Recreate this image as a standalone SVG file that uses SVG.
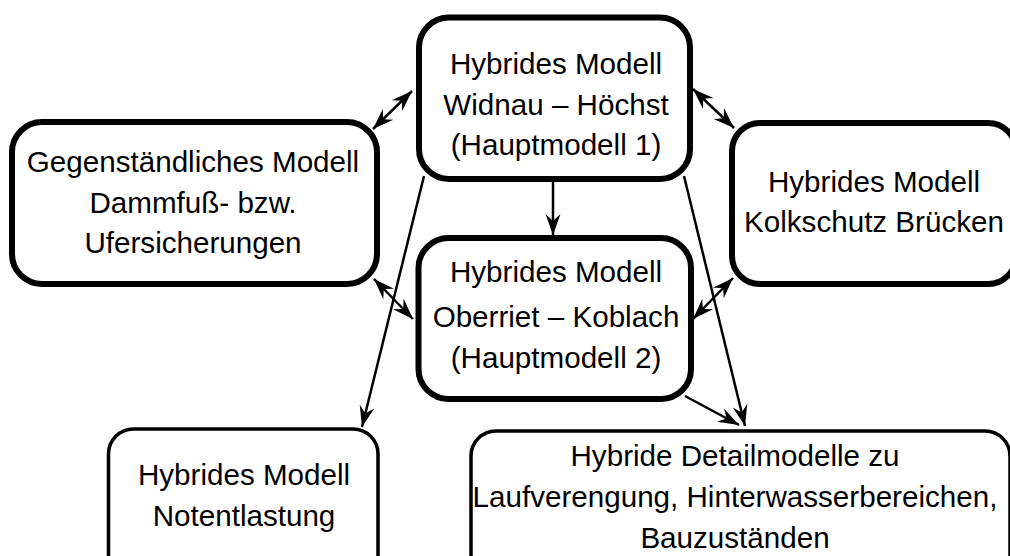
<svg xmlns="http://www.w3.org/2000/svg" width="1010" height="556" viewBox="0 0 1010 556">
<style>
.box{fill:#fff;stroke:#000;stroke-width:6}
.thin{fill:#fff;stroke:#000;stroke-width:3.5}
.t{font-family:"Liberation Sans",Arial,sans-serif;font-size:29.6px;fill:#000;text-anchor:middle}
.c{stroke:#000;stroke-width:2.5;fill:none}
</style>
<defs>
<marker id="ah" markerUnits="userSpaceOnUse" viewBox="-22 -9 24 18" refX="0" refY="0" markerWidth="24" markerHeight="18" orient="auto-start-reverse">
<path d="M0,0 L-21,-7.5 L-14,0 L-21,7.5 Z" fill="#000"/>
</marker>
</defs>
<rect width="1010" height="556" fill="#fff"/>
<g id="connectors">
<line class="c" x1="373" y1="129" x2="412" y2="91" marker-start="url(#ah)" marker-end="url(#ah)"/>
<line class="c" x1="693" y1="89" x2="734" y2="128" marker-start="url(#ah)" marker-end="url(#ah)"/>
<line class="c" x1="374" y1="279" x2="413" y2="319" marker-start="url(#ah)" marker-end="url(#ah)"/>
<line class="c" x1="733" y1="278" x2="693" y2="319" marker-start="url(#ah)" marker-end="url(#ah)"/>
<line class="c" x1="553" y1="182" x2="553" y2="235" marker-end="url(#ah)"/>
<line class="c" x1="424" y1="176" x2="362" y2="427" marker-end="url(#ah)"/>
<line class="c" x1="684" y1="176" x2="745" y2="426" marker-end="url(#ah)"/>
<line class="c" x1="685" y1="396" x2="739" y2="425" marker-end="url(#ah)"/>
</g>
<g id="n1">
<rect class="box" x="419" y="17.5" width="271" height="161.5" rx="30"/>
<text class="t" x="556" y="74">Hybrides Modell</text>
<text class="t" x="556" y="115">Widnau – Höchst</text>
<text class="t" x="556" y="155">(Hauptmodell 1)</text>
</g>
<g id="n2">
<rect class="box" x="12" y="122" width="365" height="162" rx="30"/>
<text class="t" x="193" y="172">Gegenständliches Modell</text>
<text class="t" x="193" y="213">Dammfuß- bzw.</text>
<text class="t" x="193" y="253">Ufersicherungen</text>
</g>
<g id="n3">
<rect class="box" x="732" y="123" width="284" height="161" rx="28"/>
<text class="t" x="874" y="192">Hybrides Modell</text>
<text class="t" x="874" y="232">Kolkschutz Brücken</text>
</g>
<g id="n4">
<rect class="box" x="418.5" y="238" width="272.5" height="161" rx="30"/>
<text class="t" x="556" y="282">Hybrides Modell</text>
<text class="t" x="556" y="327">Oberriet – Koblach</text>
<text class="t" x="556" y="368">(Hauptmodell 2)</text>
</g>
<g id="n5">
<rect class="thin" x="108.5" y="429" width="269.5" height="160" rx="25"/>
<text class="t" x="244" y="485">Hybrides Modell</text>
<text class="t" x="244" y="526">Notentlastung</text>
</g>
<g id="n6">
<rect class="thin" x="471" y="431" width="539" height="160" rx="25"/>
<text class="t" x="735" y="466">Hybride Detailmodelle zu</text>
<text class="t" x="735" y="507">Laufverengung, Hinterwasserbereichen,</text>
<text class="t" x="735" y="548">Bauzuständen</text>
</g>
</svg>
